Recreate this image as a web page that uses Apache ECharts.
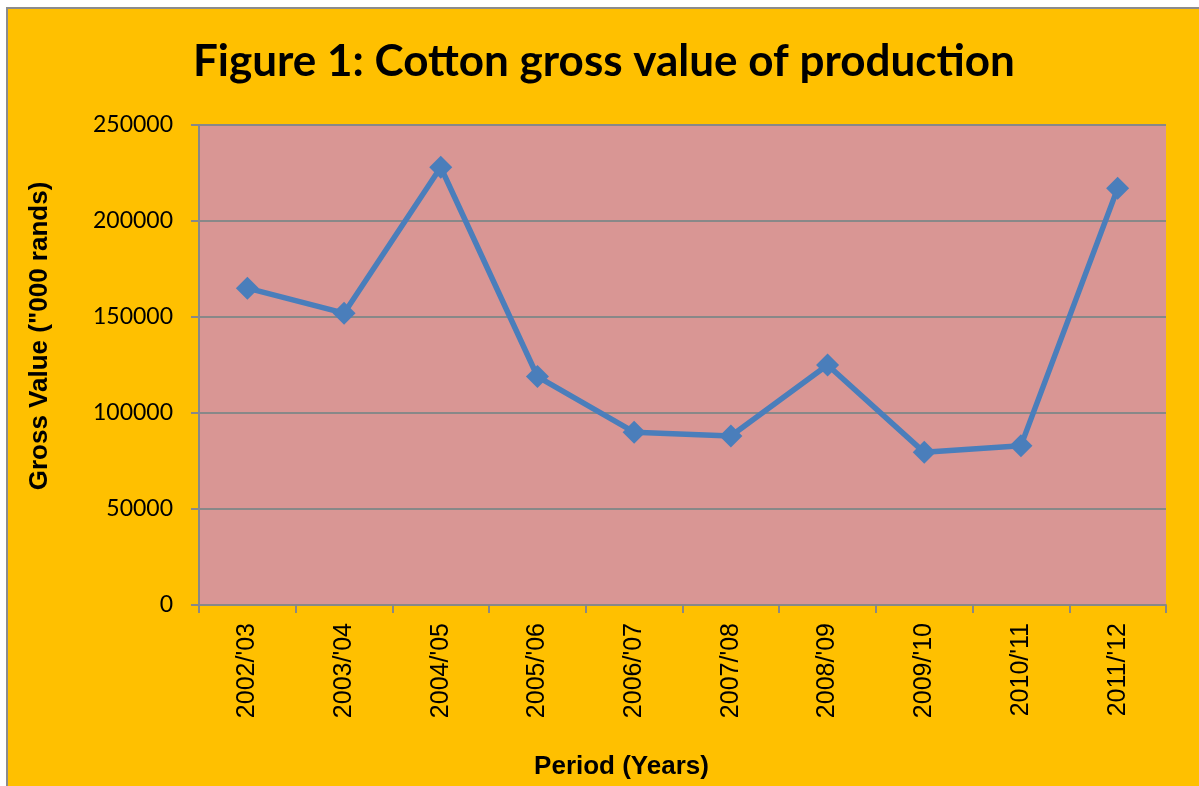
<!DOCTYPE html>
<html>
<head>
<meta charset="utf-8">
<script src="https://cdn.jsdelivr.net/npm/echarts@6/dist/echarts.min.js"></script>
<style>
html,body{margin:0;padding:0;background:#ffffff;overflow:hidden;width:1199px;height:786px;}
#bg{position:absolute;left:6px;top:7px;width:1300px;height:900px;background:#FFC000;border:2px solid #8c8c8c;}
#chart{position:absolute;left:0;top:0;width:1199px;height:786px;}
</style>
</head>
<body>
<div id="bg"></div>
<div id="chart"></div>
<script>
const titleText = "Figure 1: Cotton gross value of production";
const categories = ["2002/'03","2003/'04","2004/'05","2005/'06","2006/'07","2007/'08","2008/'09","2009/'10","2010/'11","2011/'12"];
const grossValues = [165000, 152000, 228000, 119000, 90000, 88000, 125000, 79500, 83000, 217000];
const yAxisTitle = 'Gross Value ("000 rands)';
const xAxisTitle = 'Period (Years)';

const chart = echarts.init(document.getElementById('chart'), null, {renderer:'canvas'});
const grayLine = '#888888';
chart.setOption({
  backgroundColor: 'transparent',
  animation: false,
  title: {
    text: titleText,
    left: 188,
    top: 35,
    textStyle: {fontFamily: 'Lato', fontWeight: 'bold', fontSize: 44, color: '#000'}
  },
  grid: {
    left: 199, top: 125, right: 33, bottom: 181,
    show: true, backgroundColor: '#D99694', borderWidth: 0
  },
  xAxis: {
    type: 'category',
    data: categories,
    boundaryGap: true,
    name: xAxisTitle,
    nameLocation: 'middle',
    nameGap: 149,
    nameTextStyle: {fontFamily: 'Liberation Sans', fontWeight: 'bold', fontSize: 26, color: '#000', padding: [0,122,0,0]},
    axisLine: {show: true, lineStyle: {color: grayLine, width: 2}},
    axisTick: {show: true, alignWithLabel: false, length: 8, lineStyle: {color: grayLine, width: 2}},
    axisLabel: {rotate: 90, margin: 18, fontFamily: 'Liberation Sans', fontSize: 25, color: '#000', interval: 0},
    splitLine: {show: false}
  },
  yAxis: {
    type: 'value',
    min: 0, max: 250000, interval: 50000,
    name: yAxisTitle,
    nameLocation: 'middle',
    nameRotate: 90,
    nameGap: 146,
    nameTextStyle: {fontFamily: 'Liberation Sans', fontWeight: 'bold', fontSize: 26, color: '#000', padding: [0,0,0,58]},
    axisLine: {show: true, lineStyle: {color: grayLine, width: 2}},
    axisTick: {show: true, length: 8, lineStyle: {color: grayLine, width: 2}},
    axisLabel: {margin: 26, fontFamily: 'Lato', fontSize: 23, color: '#000', formatter: function (v) { return String(v); }},
    splitLine: {show: true, lineStyle: {color: grayLine, width: 2}}
  },
  series: [{
    type: 'line',
    data: grossValues,
    symbol: 'diamond',
    symbolSize: 23,
    lineStyle: {color: '#4A7EBB', width: 5.5},
    itemStyle: {color: '#4A7EBB'},
    z: 5
  }]
});
</script>
</body>
</html>
